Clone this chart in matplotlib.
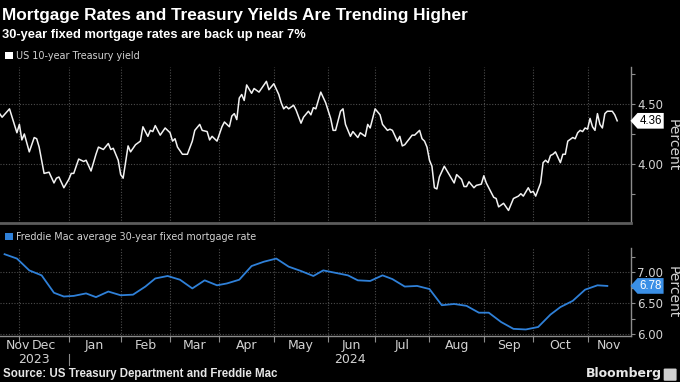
import numpy as np
import matplotlib
matplotlib.use('Agg')
import matplotlib.pyplot as plt
from matplotlib.patches import Patch, FancyBboxPatch
from matplotlib.path import Path

plt.rcParams['font.family'] = ['DejaVu Sans']
HEAD = ['Liberation Sans', 'DejaVu Sans']

# --- data ---
bond_holidays = ['2023-11-23', '2023-12-25', '2024-01-01', '2024-01-15', '2024-02-19',
                 '2024-03-29', '2024-05-27', '2024-06-19', '2024-07-04', '2024-09-02',
                 '2024-10-14', '2024-11-11', '2024-11-28']

ust_dates = [
    '2023-11-20', '2023-11-21', '2023-11-27', '2023-11-30', '2023-12-01', '2023-12-04',
    '2023-12-05', '2023-12-07', '2023-12-11', '2023-12-12', '2023-12-13', '2023-12-15',
    '2023-12-19', '2023-12-21', '2023-12-22', '2023-12-26', '2023-12-28', '2024-01-02',
    '2024-01-03', '2024-01-04', '2024-01-08', '2024-01-10', '2024-01-11', '2024-01-16',
    '2024-01-18', '2024-01-19', '2024-01-23', '2024-01-25', '2024-01-26', '2024-01-29',
    '2024-01-31', '2024-02-01', '2024-02-02', '2024-02-06', '2024-02-07', '2024-02-09',
    '2024-02-13', '2024-02-14', '2024-02-16', '2024-02-20', '2024-02-21', '2024-02-22',
    '2024-02-26', '2024-02-28', '2024-03-01', '2024-03-04', '2024-03-05', '2024-03-06',
    '2024-03-08', '2024-03-12', '2024-03-14', '2024-03-15', '2024-03-19', '2024-03-20',
    '2024-03-22', '2024-03-25', '2024-03-26', '2024-03-27', '2024-03-28', '2024-04-02',
    '2024-04-03', '2024-04-05', '2024-04-08', '2024-04-09', '2024-04-10', '2024-04-11',
    '2024-04-12', '2024-04-15', '2024-04-16', '2024-04-18', '2024-04-19', '2024-04-23',
    '2024-04-26', '2024-04-29', '2024-05-01', '2024-05-03', '2024-05-06', '2024-05-07',
    '2024-05-08', '2024-05-09', '2024-05-13', '2024-05-14', '2024-05-16', '2024-05-17',
    '2024-05-21', '2024-05-22', '2024-05-23', '2024-05-24', '2024-05-29', '2024-05-31',
    '2024-06-04', '2024-06-05', '2024-06-06', '2024-06-10', '2024-06-11', '2024-06-12',
    '2024-06-14', '2024-06-17', '2024-06-20', '2024-06-21', '2024-06-25', '2024-06-26',
    '2024-06-27', '2024-07-01', '2024-07-03', '2024-07-05', '2024-07-09', '2024-07-10',
    '2024-07-11', '2024-07-15', '2024-07-16', '2024-07-17', '2024-07-18', '2024-07-23',
    '2024-07-24', '2024-07-26', '2024-07-29', '2024-07-30', '2024-07-31', '2024-08-01',
    '2024-08-02', '2024-08-05', '2024-08-06', '2024-08-07', '2024-08-09', '2024-08-13',
    '2024-08-15', '2024-08-16', '2024-08-20', '2024-08-21', '2024-08-22', '2024-08-23',
    '2024-08-27', '2024-08-28', '2024-08-30', '2024-09-03', '2024-09-04', '2024-09-06',
    '2024-09-09', '2024-09-10', '2024-09-11', '2024-09-13', '2024-09-16', '2024-09-17',
    '2024-09-19', '2024-09-23', '2024-09-24', '2024-09-25', '2024-09-27', '2024-09-30',
    '2024-10-01', '2024-10-02', '2024-10-04', '2024-10-07', '2024-10-08', '2024-10-09',
    '2024-10-10', '2024-10-11', '2024-10-15', '2024-10-17', '2024-10-18', '2024-10-21',
    '2024-10-22', '2024-10-24', '2024-10-25', '2024-10-28', '2024-10-29', '2024-10-30',
    '2024-10-31', '2024-11-01', '2024-11-04', '2024-11-05', '2024-11-06', '2024-11-07',
    '2024-11-08', '2024-11-12', '2024-11-13', '2024-11-14', '2024-11-18', '2024-11-19',
    '2024-11-20']
ust_yield = [
    4.42, 4.39, 4.46, 4.26, 4.33, 4.20, 4.25, 4.10, 4.22, 4.21, 4.14, 3.92,
    3.93, 3.84, 3.88, 3.89, 3.80, 3.87, 3.92, 3.92, 4.04, 4.02, 4.03, 3.94,
    4.08, 4.14, 4.12, 4.17, 4.12, 4.13, 4.03, 3.91, 3.88, 4.15, 4.10, 4.16,
    4.19, 4.31, 4.23, 4.28, 4.27, 4.32, 4.24, 4.30, 4.26, 4.19, 4.21, 4.14,
    4.08, 4.08, 4.19, 4.28, 4.33, 4.28, 4.27, 4.20, 4.23, 4.21, 4.19, 4.31,
    4.35, 4.31, 4.40, 4.42, 4.37, 4.55, 4.58, 4.53, 4.66, 4.59, 4.63, 4.60,
    4.69, 4.62, 4.67, 4.58, 4.51, 4.46, 4.48, 4.46, 4.49, 4.45, 4.34, 4.39,
    4.44, 4.41, 4.47, 4.46, 4.60, 4.51, 4.38, 4.28, 4.28, 4.44, 4.46, 4.33,
    4.23, 4.27, 4.22, 4.26, 4.23, 4.33, 4.30, 4.46, 4.41, 4.33, 4.28, 4.29,
    4.28, 4.19, 4.23, 4.15, 4.16, 4.24, 4.24, 4.28, 4.21, 4.19, 4.14, 4.03,
    3.98, 3.80, 3.79, 3.89, 3.98, 3.91, 3.84, 3.91, 3.87, 3.81, 3.81, 3.85,
    3.80, 3.82, 3.83, 3.90, 3.84, 3.76, 3.72, 3.71, 3.64, 3.67, 3.64, 3.61,
    3.71, 3.73, 3.75, 3.73, 3.80, 3.76, 3.77, 3.73, 3.84, 4.01, 4.03, 4.01,
    4.07, 4.08, 4.10, 4.01, 4.08, 4.08, 4.19, 4.22, 4.21, 4.26, 4.28, 4.27,
    4.30, 4.29, 4.38, 4.31, 4.28, 4.42, 4.33, 4.30, 4.42, 4.44, 4.44, 4.41,
    4.36]

mtg_dates = [
    '2023-11-23', '2023-11-30', '2023-12-07', '2023-12-14', '2023-12-21', '2023-12-28',
    '2024-01-04', '2024-01-11', '2024-01-18', '2024-01-25', '2024-02-01', '2024-02-08',
    '2024-02-15', '2024-02-22', '2024-02-29', '2024-03-07', '2024-03-14', '2024-03-21',
    '2024-03-28', '2024-04-04', '2024-04-11', '2024-04-18', '2024-04-25', '2024-05-02',
    '2024-05-09', '2024-05-16', '2024-05-23', '2024-05-30', '2024-06-06', '2024-06-13',
    '2024-06-20', '2024-06-27', '2024-07-04', '2024-07-11', '2024-07-18', '2024-07-25',
    '2024-08-01', '2024-08-08', '2024-08-15', '2024-08-22', '2024-08-29', '2024-09-05',
    '2024-09-12', '2024-09-19', '2024-09-26', '2024-10-03', '2024-10-10', '2024-10-17',
    '2024-10-24', '2024-10-31', '2024-11-07', '2024-11-14']
mtg_rate = [
    7.29, 7.22, 7.03, 6.95, 6.67, 6.61, 6.62, 6.66, 6.60, 6.69, 6.63, 6.64,
    6.77, 6.90, 6.94, 6.88, 6.74, 6.87, 6.79, 6.82, 6.88, 7.10, 7.17, 7.22,
    7.09, 7.02, 6.94, 7.03, 6.99, 6.95, 6.87, 6.86, 6.95, 6.89, 6.77, 6.78,
    6.73, 6.47, 6.49, 6.46, 6.35, 6.35, 6.20, 6.09, 6.08, 6.12, 6.32, 6.44,
    6.54, 6.72, 6.79, 6.78]

month_labels = ['Nov', 'Dec', 'Jan', 'Feb', 'Mar', 'Apr', 'May', 'Jun', 'Jul',
                'Aug', 'Sep', 'Oct', 'Nov']
year_labels = ['2023', '2024']

# --- trading-day x axis (weekends + bond holidays skipped) ---
origin = np.datetime64('2023-12-01')
hol = np.array(bond_holidays, dtype='datetime64[D]')

def tday(dates):
    return np.busday_count(origin, np.array(dates, dtype='datetime64[D]'), holidays=hol)

x_ust = tday(ust_dates)
x_mtg = tday(mtg_dates)
month_starts = np.arange('2023-12', '2024-12', dtype='datetime64[M]').astype('datetime64[D]')
bounds = tday(np.busday_offset(month_starts, 0, roll='forward', holidays=hol))

XMIN, XMAX = -7.85, 247.6
edges = np.concatenate([[XMIN], bounds, [XMAX]])
centers = (edges[:-1] + edges[1:]) / 2
centers[0] = max(centers[0], XMIN + 7.4)

BG = 'black'
GRID = '#4d4d4d'
AXIS = '#8c8c8c'
TXT = '#d2d2d2'
BLUE = '#2f80d8'

fig = plt.figure(figsize=(6.8, 3.82), dpi=100, facecolor=BG)
ax1 = fig.add_axes([0, 0.4162, 0.928, 0.4084])
ax2 = fig.add_axes([0, 0.1204, 0.928, 0.2304])


def tag_box(x0, y0, width, height, mutation_size):
    pad = 0.16 * mutation_size
    x0, y0 = x0 - pad, y0 - pad
    x1, y1 = x0 + width + 2 * pad, y0 + height + 2 * pad
    tip = 0.45 * (y1 - y0)
    return Path([(x0, y0), (x1, y0), (x1, y1), (x0, y1),
                 (x0 - tip, (y0 + y1) / 2), (x0, y0)], closed=True)


def style(ax, ylim, major, minor):
    ax.set_facecolor(BG)
    ax.set_xlim(XMIN, XMAX)
    ax.set_ylim(*ylim)
    for s in ['left', 'top']:
        ax.spines[s].set_visible(False)
    ax.spines['right'].set_color(AXIS)
    ax.spines['right'].set_linewidth(1)
    ax.yaxis.tick_right()
    ax.set_yticks(major)
    ax.set_yticks(minor, minor=True)
    ax.set_yticklabels(['%.2f' % v for v in major])
    ax.tick_params(axis='y', which='both', direction='out', length=3, width=0.8,
                   color=AXIS, labelcolor=TXT, labelsize=8.5, pad=1.5)
    ax.set_xticks(bounds)
    ax.grid(axis='both', which='major', color=GRID, linestyle=(0, (1, 1.5)), linewidth=0.8)
    ax.set_axisbelow(True)


style(ax1, (3.505, 4.81), [4.0, 4.5], [3.75, 4.25, 4.75])
style(ax2, (5.975, 7.39), [6.0, 6.5, 7.0], [6.25, 6.75, 7.25])

ax1.plot(x_ust, ust_yield, color='#f2f2f2', linewidth=1.1)
ax2.plot(x_mtg, mtg_rate, color=BLUE, linewidth=1.3)

ax1.spines['bottom'].set_color('#5c5c5c')
ax1.spines['bottom'].set_linewidth(2)
ax1.tick_params(axis='x', length=0, labelbottom=False)

ax2.spines['bottom'].set_color(AXIS)
ax2.spines['bottom'].set_linewidth(1)
ax2.tick_params(axis='x', which='major', direction='out', length=4, width=0.8,
                color=AXIS, labelbottom=False)
ax2.set_xticks(centers, minor=True)
ax2.set_xticklabels(month_labels, minor=True)
ax2.tick_params(axis='x', which='minor', length=0, pad=2.5, labelsize=9, labelcolor=TXT)

# year labels under the months
xt = ax2.get_xaxis_transform()
yr_edges = [XMIN, bounds[1], XMAX]
for i, yl in enumerate(year_labels):
    ax2.text((yr_edges[i] + yr_edges[i + 1]) / 2, -0.27, yl, transform=xt,
             ha='center', va='center', color=TXT, fontsize=9)
ax2.plot([bounds[1], bounds[1]], [-0.2, -0.33], transform=xt, color=AXIS,
         linewidth=0.8, clip_on=False)

# Percent labels
for ax in (ax1, ax2):
    ax.text(1.066, 0.5, 'Percent', transform=ax.transAxes, rotation=270,
            ha='center', va='center', color=TXT, fontsize=10)

# last-value tags
ax1.annotate('%.2f' % ust_yield[-1], xy=(1, ust_yield[-1]), xycoords=ax1.get_yaxis_transform(),
             xytext=(6, 0), textcoords='offset points', ha='left', va='center',
             fontsize=8.3, color='black', family=HEAD,
             bbox=dict(boxstyle=tag_box, facecolor='white', edgecolor='none'))
ax2.annotate('%.2f' % mtg_rate[-1], xy=(1, mtg_rate[-1]), xycoords=ax2.get_yaxis_transform(),
             xytext=(6, 0), textcoords='offset points', ha='left', va='center',
             fontsize=8.3, color='white', family=HEAD,
             bbox=dict(boxstyle=tag_box, facecolor='#3a8fe6', edgecolor='none'))

# legends
ax1.legend(handles=[Patch(facecolor='white', label='US 10-year Treasury yield')],
           loc='center left', bbox_to_anchor=(0.008, 1 - 56 / 382), bbox_transform=fig.transFigure,
           frameon=False, fontsize=6.9, labelcolor=TXT, handlelength=0.75, handleheight=0.75,
           handletextpad=0.3, borderpad=0, borderaxespad=0)
ax2.legend(handles=[Patch(facecolor=BLUE, label='Freddie Mac average 30-year fixed mortgage rate')],
           loc='center left', bbox_to_anchor=(0.008, 1 - 237 / 382), bbox_transform=fig.transFigure,
           frameon=False, fontsize=6.9, labelcolor=TXT, handlelength=0.75, handleheight=0.75,
           handletextpad=0.3, borderpad=0, borderaxespad=0)

# titles
fig.text(0.003, 1 - 20 / 382, 'Mortgage Rates and Treasury Yields Are Trending Higher',
         color='white', fontsize=12.4, fontweight='bold', va='baseline', family=HEAD)
fig.text(0.003, 1 - 38 / 382, '30-year fixed mortgage rates are back up near 7%',
         color='white', fontsize=9.3, fontweight='bold', va='baseline', family=HEAD)

fig.text(0.005, 1 - 374 / 382, 'Source: US Treasury Department and Freddie Mac',
         color='#e6e6e6', fontsize=8.3, fontweight='bold', va='center', family=HEAD)
fig.text(0.973, 1 - 374 / 382, 'Bloomberg', color='#e6e6e6', fontsize=9,
         fontweight='bold', ha='right', va='center')
fig.patches.append(FancyBboxPatch((0.978, 1 - 380 / 382), 0.015, 0.028,
                                  boxstyle='round,pad=0.002', transform=fig.transFigure,
                                  facecolor='#cfcfcf', edgecolor='none', figure=fig))

fig.savefig('out.png', dpi=100, facecolor=BG)
